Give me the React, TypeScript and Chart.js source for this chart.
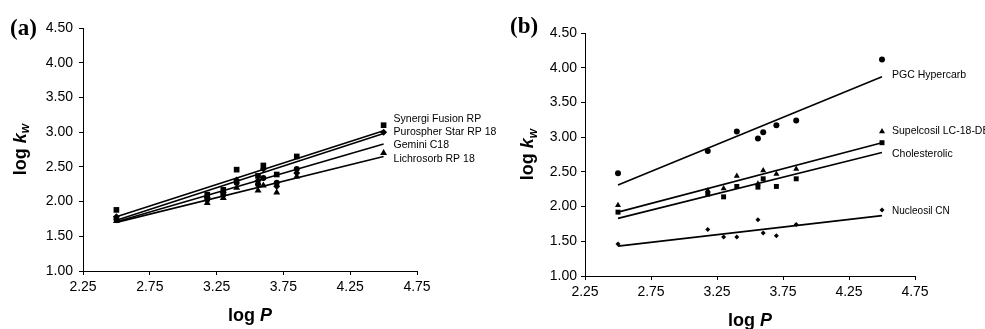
import React, { useEffect, useRef } from 'react';
import { Chart, registerables } from 'chart.js';
Chart.register(...registerables);

const W = 985;
const H = 329;
const FONT = '"Liberation Sans", Arial, Helvetica, sans-serif';
const SERIF = '"Liberation Serif", "Times New Roman", Times, serif';

// ---- shared data ----
const logP = [2.5, 3.18, 3.3, 3.4, 3.56, 3.6, 3.7, 3.85, 4.5];
const fitRange = [2.5, 4.5];
const xTicks = [2.25, 2.75, 3.25, 3.75, 4.25, 4.75];
const yTicks = [1.0, 1.5, 2.0, 2.5, 3.0, 3.5, 4.0, 4.5];

// ---- panel (a) ----
const synergiFusion = [1.88, 2.1, 2.17, 2.46, 2.37, 2.52, 2.39, 2.65, 3.1];
const purospherStar = [1.78, 2.06, 2.13, 2.31, 2.3, 2.47, 2.22, 2.41, 3.0];
const geminiC18 = [1.75, 2.03, 2.1, 2.27, 2.25, 2.34, 2.27, 2.47, null];
const lichrosorb = [1.72, 1.98, 2.05, 2.2, 2.16, 2.23, 2.13, 2.36, 2.7];
const synergiFusionFit = [1.78, 3.02];
const purospherStarFit = [1.73, 2.98];
const geminiC18Fit = [1.71, 2.83];
const lichrosorbFit = [1.7, 2.65];
const labelYa = [3.19, 3.0, 2.82, 2.61];

// ---- panel (b) ----
const pgcHypercarb = [2.48, 2.8, null, 3.08, 2.98, 3.07, 3.17, 3.24, 4.12];
const supelcosil = [2.02, 2.23, 2.26, 2.44, 2.33, 2.52, 2.47, 2.54, 3.08];
const cholesterolic = [1.92, 2.18, 2.14, 2.29, 2.28, 2.4, 2.29, 2.4, 2.92];
const nucleosilCN = [1.46, 1.67, 1.56, 1.56, 1.81, 1.62, 1.58, 1.74, 1.95];
const pgcHypercarbFit = [2.31, 3.87];
const supelcosilFit = [1.92, 2.92];
const cholesterolicFit = [1.83, 2.78];
const nucleosilCNFit = [1.43, 1.87];
const labelYb = [3.9, 3.09, 2.76, 1.93];

type Series = {
  name: string;
  values: (number | null)[];
  fit: number[];
  marker: string;
  radius: number;
  labelY: number;
  labelSize: number;
};

type Panel = {
  tag: string;
  tagX: number;
  tagY: number;
  area: { left: number; right: number; top: number; bottom: number };
  yTickPad: number;
  yTitleOffset: number;
  series: Series[];
};

const panelA: Panel = {
  tag: '(a)',
  tagX: 10,
  tagY: 29,
  area: { left: 83, right: 417, top: 28, bottom: 271 },
  yTickPad: 6,
  yTitleOffset: 62,
  series: [
    { name: 'Synergi Fusion RP', values: synergiFusion, fit: synergiFusionFit, marker: 'rect', radius: 4, labelY: labelYa[0], labelSize: 10.5 },
    { name: 'Purospher Star RP 18', values: purospherStar, fit: purospherStarFit, marker: 'rectRot', radius: 3.5, labelY: labelYa[1], labelSize: 10.5 },
    { name: 'Gemini C18', values: geminiC18, fit: geminiC18Fit, marker: 'circle', radius: 3, labelY: labelYa[2], labelSize: 10.5 },
    { name: 'Lichrosorb RP 18', values: lichrosorb, fit: lichrosorbFit, marker: 'triangle', radius: 4, labelY: labelYa[3], labelSize: 10.5 },
  ],
};

const panelB: Panel = {
  tag: '(b)',
  tagX: 510,
  tagY: 27,
  area: { left: 585, right: 915, top: 33, bottom: 276 },
  yTickPad: 4,
  yTitleOffset: 56.5,
  series: [
    { name: 'PGC Hypercarb', values: pgcHypercarb, fit: pgcHypercarbFit, marker: 'circle', radius: 3, labelY: labelYb[0], labelSize: 10.5 },
    { name: 'Supelcosil LC-18-DB', values: supelcosil, fit: supelcosilFit, marker: 'triangle', radius: 3.5, labelY: labelYb[1], labelSize: 10.5 },
    { name: 'Cholesterolic', values: cholesterolic, fit: cholesterolicFit, marker: 'rect', radius: 3.5, labelY: labelYb[2], labelSize: 10.5 },
    { name: 'Nucleosil CN', values: nucleosilCN, fit: nucleosilCNFit, marker: 'rectRot', radius: 2.5, labelY: labelYb[3], labelSize: 10 },
  ],
};

function makeDecor(panel: Panel) {
  return {
    id: 'decor' + panel.tag,
    afterDraw(chart: any) {
      const ctx = chart.ctx as CanvasRenderingContext2D;
      const { left, right, top, bottom } = chart.chartArea;
      const xs = chart.scales.x;
      const ys = chart.scales.y;
      ctx.save();
      ctx.fillStyle = '#000';

      // series labels
      ctx.textAlign = 'left';
      ctx.textBaseline = 'middle';
      panel.series.forEach((s) => {
        ctx.font = `${s.labelSize}px ${FONT}`;
        ctx.fillText(s.name, xs.getPixelForValue(fitRange[1]) + 10, ys.getPixelForValue(s.labelY));
      });

      // panel tag
      ctx.font = `bold 23px ${SERIF}`;
      ctx.textBaseline = 'middle';
      ctx.fillText(panel.tag, panel.tagX, panel.tagY);

      // x title: log P
      const f1 = `bold 18px ${FONT}`;
      const f2 = `italic bold 18px ${FONT}`;
      ctx.textBaseline = 'alphabetic';
      ctx.font = f1;
      const wl = ctx.measureText('log ').width;
      ctx.font = f2;
      const wp = ctx.measureText('P').width;
      let x0 = (left + right) / 2 - (wl + wp) / 2;
      const by = bottom + 49.5;
      ctx.font = f1;
      ctx.fillText('log ', x0, by);
      ctx.font = f2;
      ctx.fillText('P', x0 + wl, by);

      // y title: log k_w
      const f3 = `italic bold 12px ${FONT}`;
      ctx.font = f1;
      const w1 = ctx.measureText('log ').width;
      ctx.font = f2;
      const w2 = ctx.measureText('k').width;
      ctx.font = f3;
      const w3 = ctx.measureText('w').width;
      ctx.translate(left - panel.yTitleOffset, (top + bottom) / 2);
      ctx.rotate(-Math.PI / 2);
      ctx.textBaseline = 'middle';
      let tx = -(w1 + w2 + w3) / 2;
      ctx.font = f1;
      ctx.fillText('log ', tx, 0);
      tx += w1;
      ctx.font = f2;
      ctx.fillText('k', tx, 0);
      tx += w2;
      ctx.font = f3;
      ctx.fillText('w', tx, 5);
      ctx.restore();
    },
  };
}

function buildConfig(panel: Panel): any {
  const datasets: any[] = [];
  panel.series.forEach((s) => {
    datasets.push({
      type: 'line',
      label: s.name + ' trend',
      data: fitRange.map((x, i) => ({ x, y: s.fit[i] })),
      borderColor: '#000',
      borderWidth: 1.6,
      pointRadius: 0,
      fill: false,
      tension: 0,
    });
    datasets.push({
      type: 'scatter',
      label: s.name,
      data: logP
        .map((x, i) => ({ x, y: s.values[i] }))
        .filter((p) => p.y !== null),
      pointStyle: s.marker,
      pointRadius: s.radius,
      backgroundColor: '#000',
      borderColor: '#000',
      borderWidth: 0,
      showLine: false,
    });
  });
  const a = panel.area;
  return {
    type: 'scatter',
    data: { datasets },
    options: {
      responsive: false,
      animation: false,
      events: [],
      layout: { padding: { left: 0, right: W - a.right, top: a.top, bottom: 0 } },
      plugins: { legend: { display: false }, tooltip: { enabled: false }, title: { display: false } },
      scales: {
        x: {
          type: 'linear',
          min: 2.25,
          max: 4.75,
          afterBuildTicks: (sc: any) => {
            sc.ticks = xTicks.map((v) => ({ value: v }));
          },
          afterFit: (sc: any) => {
            sc.height = H - a.bottom;
          },
          ticks: {
            callback: (v: any) => Number(v).toFixed(2),
            font: { family: FONT, size: 14 },
            color: '#000',
            padding: 4,
            maxRotation: 0,
            autoSkip: false,
          },
          grid: { drawOnChartArea: false, drawTicks: true, tickLength: 4, color: '#000' },
          border: { display: true, color: '#000', width: 1 },
        },
        y: {
          type: 'linear',
          min: 1,
          max: 4.5,
          afterBuildTicks: (sc: any) => {
            sc.ticks = yTicks.map((v) => ({ value: v }));
          },
          afterFit: (sc: any) => {
            sc.width = a.left;
          },
          ticks: {
            callback: (v: any) => Number(v).toFixed(2),
            font: { family: FONT, size: 14 },
            color: '#000',
            padding: panel.yTickPad,
            autoSkip: false,
          },
          grid: { drawOnChartArea: false, drawTicks: true, tickLength: 4, color: '#000' },
          border: { display: true, color: '#000', width: 1 },
        },
      },
    },
    plugins: [makeDecor(panel)],
  };
}

function PanelChart({ panel }: { panel: Panel }) {
  const ref = useRef<HTMLCanvasElement | null>(null);
  useEffect(() => {
    if (!ref.current) return;
    const chart = new Chart(ref.current, buildConfig(panel));
    return () => chart.destroy();
  }, [panel]);
  return (
    <canvas
      ref={ref}
      width={W}
      height={H}
      style={{ position: 'absolute', left: 0, top: 0, width: W, height: H }}
    />
  );
}

export default function App() {
  return (
    <div style={{ position: 'fixed', left: 0, top: 0, width: W, height: H, background: '#fff', overflow: 'hidden' }}>
      <PanelChart panel={panelA} />
      <PanelChart panel={panelB} />
    </div>
  );
}
